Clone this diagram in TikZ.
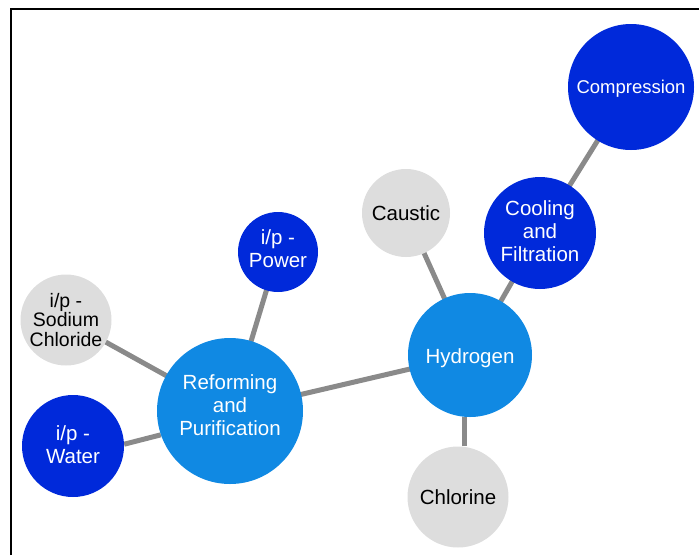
\documentclass[tikz,border=0pt]{standalone}
\usepackage{fontspec}
\setmainfont{Liberation Sans}
\usepackage{tikz}
\usetikzlibrary{backgrounds}
\definecolor{cDark}{RGB}{0,41,218}
\definecolor{cLight}{RGB}{16,137,227}
\definecolor{cGrey}{RGB}{221,221,221}
\definecolor{cLink}{RGB}{138,138,138}

\begin{document}
\begin{tikzpicture}[x=1pt, y=-1pt,
    bubble/.style={circle, inner sep=0pt, align=center, font=\fontsize{20.5}{23}\selectfont},
    dark/.style={bubble, fill=cDark, text=white},
    light/.style={bubble, fill=cLight, text=white},
    grey/.style={bubble, fill=cGrey, text=black},
    link/.style={draw=cLink, line width=5pt}]
    \useasboundingbox (0,0) rectangle (699,555);

    % Frame
    \draw[line width=1.5pt] (11,555) -- (11,9) -- (699,9);

    % Hub nodes
    \node[light, minimum size=146pt, text depth=12pt] (reform) at (230,411) {Reforming\\and\\Purification};
    \node[light, minimum size=124pt, text height=22pt] (hyd) at (470,355) {Hydrogen};

    % Inputs
    \node[dark, minimum size=80pt, text depth=6pt] (power) at (278,252) {i/p -\\Power};
    \node[dark, minimum size=102pt, text depth=3pt] (water) at (73,446) {i/p -\\Water};
    \node[grey, minimum size=91pt, font=\fontsize{19.5}{19.5}\selectfont] (nacl) at (66,320) {i/p -\\Sodium\\Chloride};

    % Products
    \node[grey, minimum size=88pt] (caustic) at (406,213) {Caustic};
    \node[grey, minimum size=101pt] (chlor) at (458,497) {Chlorine};
    \node[dark, minimum size=112pt, text depth=3pt] (cool) at (540,233) {Cooling\\and\\Filtration};
    \node[dark, minimum size=126pt, font=\fontsize{18.5}{21}\selectfont, text height=16pt] (comp) at (631,87) {Compression};

    % Links behind the bubbles
    \begin{scope}[on background layer]
        \draw[link] (power.center) -- (reform.center);
        \draw[link] (nacl.center) -- (reform.center);
        \draw[link] (water.2) -- (reform.199);
        \draw[link] (reform.center) -- (hyd.center);
        \draw[link] (caustic.center) -- (hyd.center);
        \draw[link] (hyd.265) -- (hyd.265 |- chlor.north);
        \draw[link] (cool.center) -- (hyd.center);
        \draw[link] (comp.center) -- (cool.center);
    \end{scope}
\end{tikzpicture}
\end{document}
